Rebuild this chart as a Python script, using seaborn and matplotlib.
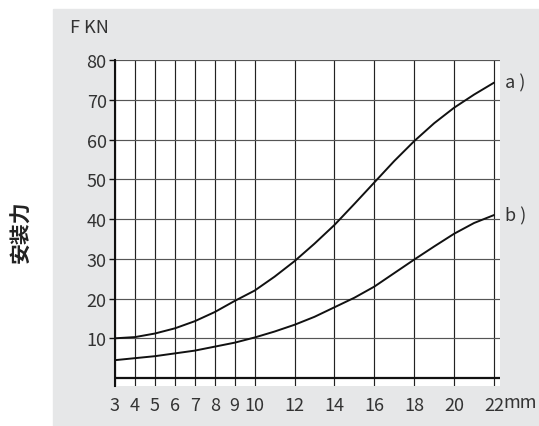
import matplotlib
matplotlib.use("Agg")
import matplotlib.pyplot as plt
import seaborn as sns
import pandas as pd
from matplotlib.patches import Rectangle

# values
x_mm = [3, 4, 5, 6, 7, 8, 9, 10, 11, 12, 13, 14, 15, 16, 17, 18, 19, 20, 21, 22]
force_a = [10, 10.3, 11.2, 12.5, 14.3, 16.6, 19.4, 22, 25.5, 29.4, 33.8, 38.5, 43.8, 49.2, 54.6, 59.6, 64.1, 68, 71.3, 74.3]
force_b = [4.5, 5.0, 5.5, 6.2, 6.9, 7.9, 8.9, 10.2, 11.7, 13.4, 15.4, 17.8, 20.2, 23, 26.4, 29.8, 33.1, 36.3, 39, 41]
x_ticks = [3, 4, 5, 6, 7, 8, 9, 10, 12, 14, 16, 18, 20, 22]
y_ticks = [10, 20, 30, 40, 50, 60, 70, 80]

sns.set_style("white")
plt.rcParams['font.family'] = ['Noto Sans CJK SC', 'DejaVu Sans']

df = pd.DataFrame({"x": x_mm + x_mm,
                   "F": force_a + force_b,
                   "curve": ["a"] * len(x_mm) + ["b"] * len(x_mm)})

W, H = 539, 427
fig = plt.figure(figsize=(W / 100, H / 100), dpi=100)
# grey panel behind the chart
fig.patches.append(Rectangle((53 / W, 0), 1 - 53 / W, 1 - 10 / H,
                             transform=fig.transFigure, color="#e6e7e8", zorder=-10))

ax = fig.add_axes([115 / W, 1 - 387 / H, (500 - 115) / W, (387 - 61) / H])
ax.set_facecolor("white")

# grid
for xv in x_ticks:
    ax.axvline(xv, color="#222222", lw=0.85, zorder=1)
for yv in y_ticks:
    ax.axhline(yv, color="#555555", lw=0.85, zorder=1)
ax.axhline(0, color="#111111", lw=1.6, zorder=2)

sns.lineplot(data=df, x="x", y="F", units="curve", estimator=None,
             color="#111111", lw=1.4, ax=ax, zorder=3)

ax.set_xlim(3, 22.3)
ax.set_ylim(-2, 80)
ax.set_xticks(x_ticks)
ax.set_yticks(y_ticks)
ax.set_xlabel("")
ax.set_ylabel("")
ax.tick_params(axis="x", length=0, pad=7, labelsize=13, labelcolor="#333333")
ax.tick_params(axis="y", length=4, width=1, pad=2, labelsize=13, labelcolor="#333333",
               left=True, color="#111111")
for s in ["top", "right", "bottom"]:
    ax.spines[s].set_visible(False)
ax.spines["left"].set_color("#111111")
ax.spines["left"].set_linewidth(1.5)

ax.text(22.55, force_a[-1], "a )", va="center", ha="left", fontsize=13,
        color="#333333", clip_on=False)
ax.text(22.55, force_b[-1], "b )", va="center", ha="left", fontsize=13,
        color="#333333", clip_on=False)

fig.text(70 / W, 1 - 28 / H, "F KN", ha="left", va="center", fontsize=13, color="#333333")
fig.text(503 / W, 1 - 403 / H, "mm", ha="left", va="center", fontsize=13, color="#333333")
fig.text(21 / W, 1 - 232 / H, "安装力", ha="center", va="center", rotation=90,
         fontsize=15, fontweight="bold", color="#222222")

fig.savefig("out.png", dpi=100)
